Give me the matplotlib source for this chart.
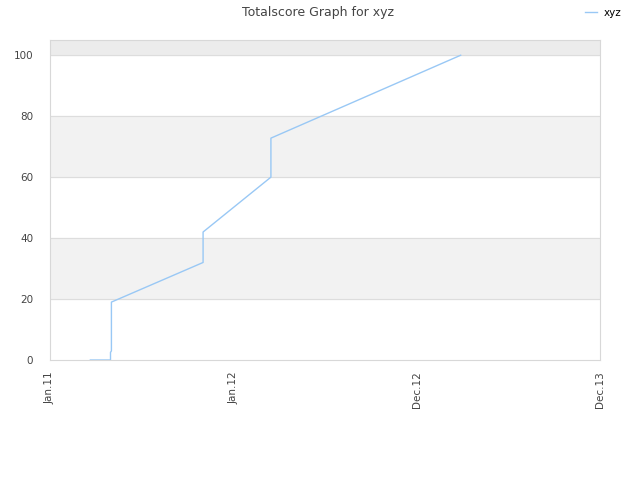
import matplotlib.pyplot as plt
from matplotlib.transforms import ScaledTranslation

# x measured in tick intervals (ticks are evenly spaced on the chart)
x_values = [0.22, 0.33, 0.33, 0.335, 0.335, 0.835, 0.835, 1.205, 1.205, 2.24]
scores = [0, 0, 2.5, 3, 19, 32, 42, 60, 72.8, 100]
tick_pos = [0, 1, 2, 3]
tick_labels = ["Jan.11", "Jan.12", "Dec.12", "Dec.13"]
bands = [(20, 40), (60, 80)]

fig = plt.figure(figsize=(6.4, 4.8), dpi=100)
ax = fig.add_axes([50 / 640, 120 / 480, 550 / 640, 320 / 480])

for lo, hi in bands:
    ax.axhspan(lo, hi, color="#f2f2f2", zorder=0)
ax.axhspan(100, 105, color="#ececec", zorder=0)
for yv in [20, 40, 60, 80, 100]:
    ax.axhline(yv, color="#dddddd", linewidth=0.8, zorder=1)

ax.plot(x_values, scores, color="#99c8f5", linewidth=1, label="xyz", zorder=2)

ax.set_xlim(0, 3)
ax.set_ylim(0, 105)
ax.set_xticks(tick_pos)
ax.set_xticklabels(tick_labels, rotation=90, fontsize=7.5, color="#444444")
# nudge x labels a little to the right, as in the reference
shift = ScaledTranslation(3 / 100, 0, fig.dpi_scale_trans)
for lbl in ax.get_xticklabels():
    lbl.set_transform(lbl.get_transform() + shift)
ax.set_yticks([0, 20, 40, 60, 80, 100])
ax.tick_params(axis="y", labelsize=7.5, labelcolor="#444444", length=0, pad=12)
ax.tick_params(axis="x", length=0, pad=8)
for s in ax.spines.values():
    s.set_color("#d8d8d8")

fig.text(0.497, 0.973, "Totalscore Graph for xyz", ha="center", va="center",
         fontsize=9, color="#444444")
fig.legend(loc="upper right", bbox_to_anchor=(0.985, 1.003), frameon=False,
           fontsize=7.5, handlelength=1.2, handletextpad=0.6)

fig.savefig("out.png")
